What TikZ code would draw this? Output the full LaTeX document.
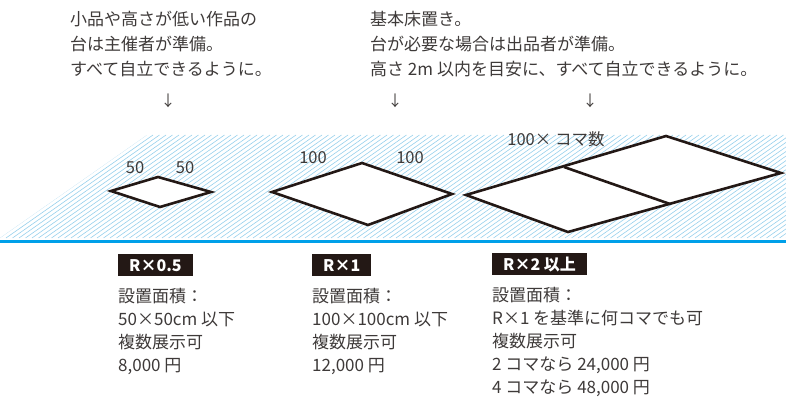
\documentclass[tikz,border=0pt]{standalone}
\usepackage{fontspec}
\setmainfont{Noto Sans CJK JP}
\usetikzlibrary{positioning}

\definecolor{ink}{RGB}{35,24,21}
\definecolor{txt}{RGB}{62,58,57}
\definecolor{hatchblue}{RGB}{150,208,236}
\definecolor{floorblue}{RGB}{0,160,233}

\tikzset{
    note/.style={align=left, anchor=north west, inner sep=0pt, text=txt,
        font=\fontsize{17}{25}\selectfont},
    info/.style={align=left, anchor=north west, inner sep=0pt, text=txt,
        font=\fontsize{17}{23}\selectfont},
    tag/.style={fill=ink, text=white, anchor=north west, inner xsep=11pt,
        minimum height=22pt, font=\fontsize{16}{16}\selectfont\bfseries},
    dim/.style={inner sep=0pt, text=txt, font=\fontsize{16.5}{16.5}\selectfont},
    pointer/.style={inner sep=0pt, text=txt, font=\fontsize{15}{15}\selectfont},
    plate/.style={draw=ink, line width=2.6pt, fill=white, line join=miter},
}

\begin{document}
\begin{tikzpicture}[x=1pt, y=-1pt]
    \useasboundingbox (0,0) rectangle (786,403);

    % floor
    \begin{scope}
        \clip (0,238) -- (147,135) -- (786,135) -- (786,238) -- cycle;
        \foreach \i in {-150,-143.5,...,790}
            \draw[hatchblue, line width=0.6pt] (\i,238) -- ++(147,-103);
    \end{scope}
    \draw[floorblue, line width=3pt] (0,241) -- (786,241);

    % notes
    \node[note] (noteA) at (70,11) {小品や高さが低い作品の\\台は主催者が準備。\\すべて自立できるように。};
    \node[note] (noteB) at (370,11) {基本床置き。\\台が必要な場合は出品者が準備。\\高さ 2m 以内を目安に、すべて自立できるように。};
    \node[pointer] (downA) at (168,101) {↓};
    \node[pointer] (downB) at (395,101) {↓};
    \node[pointer] (downC) at (590,101) {↓};

    % R x 0.5
    \coordinate (sL) at (111,191);
    \coordinate (sT) at (158,177);
    \coordinate (sR) at (211,192);
    \coordinate (sB) at (160,207);
    \draw[plate] (sL) -- (sT) -- (sR) -- (sB) -- cycle;
    \node[dim] (sw) at (135,168) {50};
    \node[dim] (se) at (185,168) {50};

    % R x 1
    \coordinate (mL) at (272,192);
    \coordinate (mT) at (362,163);
    \coordinate (mR) at (452,194);
    \coordinate (mB) at (368,225);
    \draw[plate] (mL) -- (mT) -- (mR) -- (mB) -- cycle;
    \node[dim] (mw) at (313,158) {100};
    \node[dim] (me) at (410,158) {100};

    % R x 2
    \coordinate (lL) at (466,195);
    \coordinate (lA) at (564,167);
    \coordinate (lT) at (666,136);
    \coordinate (lR) at (781,173);
    \coordinate (lC) at (670,204);
    \coordinate (lB) at (568,232);
    \draw[plate] (lL) -- (lT) -- (lR) -- (lB) -- cycle;
    \draw[plate] (lA) -- (lC);
    \node[dim] (lw) at (556,139) {100× コマ数};

    % tags
    \node[tag] (tagA) at (118,254) {R×0.5};
    \node[tag] (tagB) at (312,254) {R×1};
    \node[tag] (tagC) at (492,253) {R×2 以上};

    \node[info, below=12pt of tagA.south west, anchor=north west] (infoA)
        {設置面積：\\50×50cm 以下\\複数展示可\\8,000 円};
    \node[info, below=12pt of tagB.south west, anchor=north west] (infoB)
        {設置面積：\\100×100cm 以下\\複数展示可\\12,000 円};
    \node[info, below=12pt of tagC.south west, anchor=north west] (infoC)
        {設置面積：\\R×1 を基準に何コマでも可\\複数展示可\\2 コマなら 24,000 円\\4 コマなら 48,000 円};
\end{tikzpicture}
\end{document}
